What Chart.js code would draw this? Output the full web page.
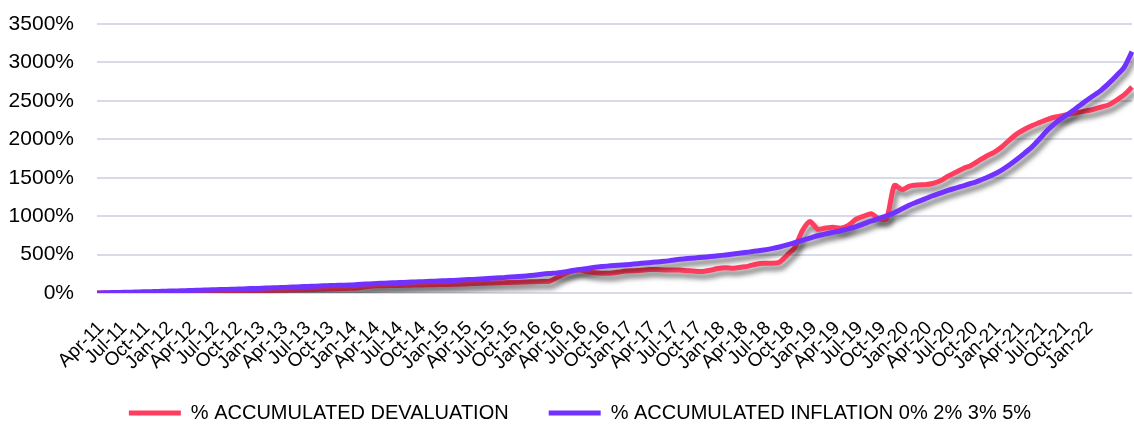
<!DOCTYPE html>
<html>
<head>
<meta charset="utf-8">
<script src="https://cdn.jsdelivr.net/npm/chart.js@4/dist/chart.umd.min.js"></script>
<style>
html,body{margin:0;padding:0;background:#fff;}
#wrap{width:1134px;height:427px;position:relative;}
</style>
</head>
<body>
<div id="wrap"><canvas id="c"></canvas></div>
<script>
const MONTHS = ['Jan','Feb','Mar','Apr','May','Jun','Jul','Aug','Sep','Oct','Nov','Dec'];
// Monthly categories Apr-11 .. Jul-22
const categories = [];
for (let y = 11; y <= 22; y++) {
  for (let m = 0; m < 12; m++) {
    if (y === 11 && m < 3) continue;
    if (y === 22 && m > 6) continue;
    categories.push(MONTHS[m] + '-' + y);
  }
}
const lastLabelShown = 'Jan-22';

const devaluation = [
  0,1,2,3,4,5,6,7,8,9,11,12,13,15,17,19,20,22,24,26,
  28,30,32,34,36,38,40,42,45,48,51,55,58,62,66,80,92,94,96,98,
  100,102,104,106,108,110,112,115,118,122,126,129,132,135,138,141,144,147,149,152,
  200,250,285,300,275,262,258,256,270,285,290,296,305,305,300,298,299,290,282,280,
  295,318,330,322,335,350,375,386,386,400,490,590,810,930,830,845,855,842,880,960,
  1000,1030,965,970,1400,1345,1390,1405,1410,1425,1460,1520,1570,1620,1660,1720,1780,1830,1900,1990,
  2070,2130,2180,2220,2260,2290,2310,2330,2350,2370,2390,2420,2450,2510,2580,2680
];
const inflation = [
  0,2,5,7,10,12,15,17,20,23,26,29,32,35,38,41,44,47,50,53,
  57,60,64,67,71,75,79,83,87,91,95,98,101,104,110,116,121,126,130,134,
  138,142,146,150,154,158,162,166,172,177,182,188,194,200,207,214,222,232,244,254,
  262,275,292,306,320,335,345,354,362,368,376,386,395,403,412,425,438,448,456,465,
  474,484,495,507,520,532,546,560,577,598,625,655,685,715,745,770,790,810,835,865,
  900,937,970,1005,1045,1095,1145,1185,1225,1265,1300,1335,1365,1395,1425,1460,1500,1545,1600,1665,
  1740,1820,1905,2010,2120,2210,2285,2350,2425,2500,2570,2640,2730,2830,2940,3140
];
const yTicks = [0,500,1000,1500,2000,2500,3000,3500];
const seriesNames = ['% ACCUMULATED DEVALUATION','% ACCUMULATED INFLATION 0% 2% 3% 5%'];
const RED = '#FF3D5E';
const PURPLE = '#7132FF';
const FONT = '"Liberation Sans", Arial, sans-serif';

const lastIdx = categories.indexOf(lastLabelShown);

const shadowPlugin = {
  id: 'shadow',
  afterLayout(chart) {
    // place the legend row as in the reference
    const lg = chart.legend;
    if (lg) { lg.left += 14; lg.right += 14; lg.top -= 15; lg.bottom -= 15; }
  },
  beforeDatasetDraw(chart) {
    const ctx = chart.ctx;
    ctx.save();
    ctx.shadowColor = 'rgba(0,0,0,0.5)';
    ctx.shadowBlur = 5;
    ctx.shadowOffsetX = 3;
    ctx.shadowOffsetY = 5;
  },
  afterDatasetDraw(chart) {
    chart.ctx.restore();
  }
};

new Chart(document.getElementById('c'), {
  type: 'line',
  data: {
    labels: categories,
    datasets: [
      {label: seriesNames[0], data: devaluation, borderColor: RED, backgroundColor: RED,
       borderWidth: 5, pointRadius: 0, tension: 0.25, order: 1, borderJoinStyle: 'round'},
      {label: seriesNames[1], data: inflation, borderColor: PURPLE, backgroundColor: PURPLE,
       borderWidth: 5, pointRadius: 0, tension: 0.25, order: 0, borderJoinStyle: 'round'}
    ]
  },
  options: {
    responsive: true,
    maintainAspectRatio: false,
    animation: false,
    layout: {padding: {left: 0, right: 2, top: 24, bottom: -21}},
    plugins: {
      tooltip: {enabled: false},
      legend: {
        position: 'bottom',
        labels: {
          font: {family: FONT, size: 20},
          color: '#000',
          boxWidth: 52,
          boxHeight: 5,
          padding: 40,
          generateLabels: (chart) => chart.data.datasets.map((d, i) => ({
            text: d.label, fillStyle: d.borderColor, strokeStyle: d.borderColor,
            lineWidth: 0, hidden: false, datasetIndex: i, fontColor: '#000'
          }))
        }
      }
    },
    scales: {
      x: {
        offset: false,
        grid: {display: false, drawTicks: false},
        border: {display: false},
        afterFit: (s) => { s.paddingLeft = 0; s.paddingRight = 0; s.height = 85; },
        ticks: {
          autoSkip: false,
          maxRotation: 45,
          minRotation: 45,
          color: '#000',
          padding: 24,
          labelOffset: 4,
          font: {family: FONT, size: 19},
          callback: function(v, i) {
            return (i % 3 === 0 && i <= lastIdx) ? categories[i] : '';
          }
        }
      },
      y: {
        min: 0,
        max: 3500,
        afterBuildTicks: (axis) => { axis.ticks = yTicks.map(v => ({value: v})); },
        afterFit: (s) => { s.width = 97; s.paddingTop = 0; s.paddingBottom = 0; },
        grid: {color: '#D9DAE8', lineWidth: 2, drawTicks: false},
        border: {display: false},
        ticks: {
          color: '#000',
          padding: 23,
          font: {family: FONT, size: 21},
          callback: v => v + '%'
        }
      }
    }
  },
  plugins: [shadowPlugin]
});
</script>
</body>
</html>
